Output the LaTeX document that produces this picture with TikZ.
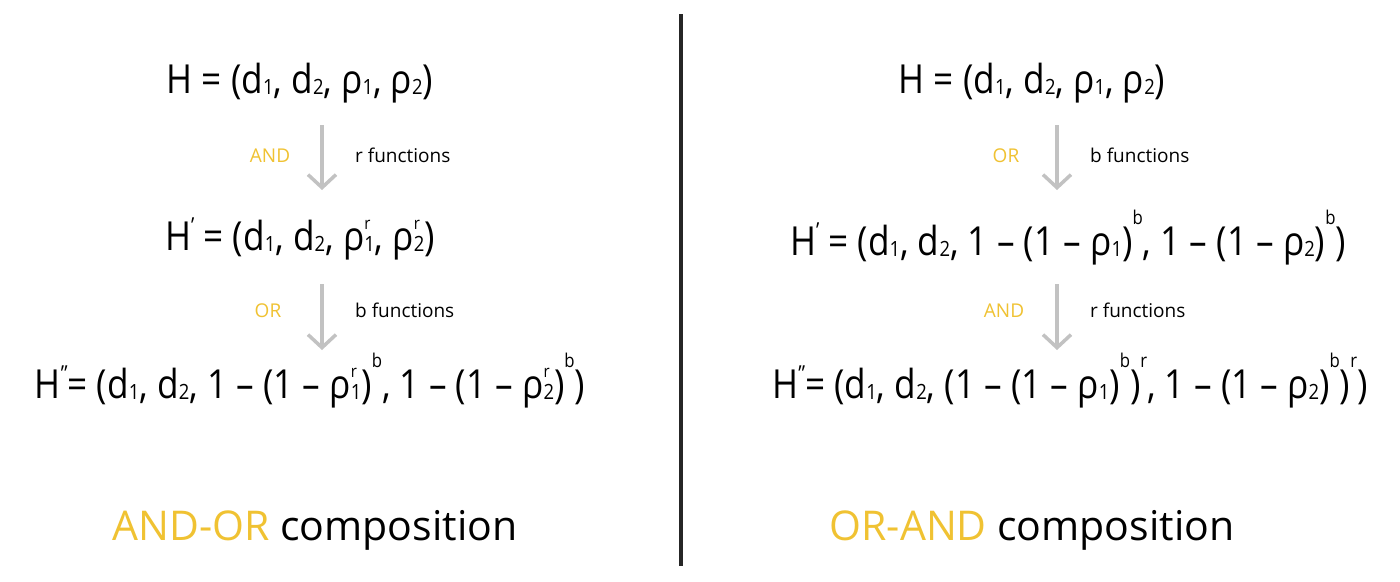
\documentclass[tikz,border=0pt]{standalone}
\usepackage{fontspec}
\setmainfont{Open Sans}
\newfontfamily\formulafont[FakeStretch=0.88]{Open Sans}
\usetikzlibrary{arrows.meta, positioning}

\definecolor{gateyellow}{HTML}{F0C232}
\definecolor{flowgray}{HTML}{C2C2C2}
\definecolor{rulegray}{HTML}{262626}

% sub- and superscripts as the reference sets them
\newcommand\lo[1]{\raisebox{-1.5pt}{\fontsize{21}{21}\selectfont #1}}
\newcommand\hi[1]{\raisebox{31pt}{\fontsize{19}{19}\selectfont #1}}
\newcommand\rr[1]{\raisebox{21pt}{\fontsize{17}{17}\selectfont #1}}
\newcommand\lohi[2]{\rlap{\rr{#2}}\lo{#1}}
\newcommand\prm[1]{\raisebox{17pt}{\fontsize{22}{22}\selectfont #1}}

\tikzset{
  formula/.style={font=\formulafont\fontsize{40}{48}\selectfont, inner sep=0pt, anchor=base},
  gate/.style={font=\fontsize{19}{22}\selectfont, text=gateyellow, inner sep=0pt, anchor=base},
  func/.style={font=\fontsize{19}{22}\selectfont, inner sep=0pt, anchor=base west},
  caption/.style={font=\fontsize{41}{48}\selectfont, inner sep=0pt, anchor=base},
  flow/.style={flowgray, line width=3.5pt, -{Straight Barb[length=13pt, width=28pt]}}
}

\begin{document}
\begin{tikzpicture}[x=1pt, y=-1pt]
    \useasboundingbox[fill=white] (0,0) rectangle (1400,581);

    % Divider
    \draw[rulegray, line width=3.5pt] (681,14) -- (681,566);

    % AND-OR side
    \node[formula] (lH) at (300,93) {H = (d\lo{1}, d\lo{2}, ρ\lo{1}, ρ\lo{2})};
    \node[formula] (lH1) at (300,250) {H\prm{’} = (d\lo{1}, d\lo{2}, ρ\lohi{1}{r}, ρ\lohi{2}{r})};
    \node[formula] (lH2) at (310,398) {H\prm{”}= (d\lo{1}, d\lo{2}, 1 – (1 – ρ\lohi{1}{r})\hi{b}, 1 – (1 – ρ\lohi{2}{r})\hi{b})};
    \coordinate (la1) at (322,125);
    \coordinate (lb1) at (322,190);
    \coordinate (la2) at (322,284);
    \coordinate (lb2) at (322,350);
    \draw[flow] (la1) -- (lb1);
    \draw[flow] (la2) -- (lb2);
    \node[gate] (lg1) at (270,162) {AND};
    \node[func] (lf1) at (355,162) {r functions};
    \node[gate] (lg2) at (268,317) {OR};
    \node[func] (lf2) at (355,317) {b functions};
    \node[caption] (lcap) at (315,540) {\textcolor{gateyellow}{AND-OR} composition};

    % OR-AND side
    \node[formula] (rH) at (1032,93) {H = (d\lo{1}, d\lo{2}, ρ\lo{1}, ρ\lo{2})};
    \node[formula] (rH1) at (1068,255) {H\prm{’} = (d\lo{1}, d\lo{2}, 1 – (1 – ρ\lo{1})\hi{b}, 1 – (1 – ρ\lo{2})\hi{b})};
    \node[formula] (rH2) at (1070,398) {H\prm{”}= (d\lo{1}, d\lo{2}, (1 – (1 – ρ\lo{1})\hi{b})\hi{r}, 1 – (1 – ρ\lo{2})\hi{b})\hi{r})};
    \coordinate (ra1) at (1057,125);
    \coordinate (rb1) at (1057,190);
    \coordinate (ra2) at (1057,284);
    \coordinate (rb2) at (1057,350);
    \draw[flow] (ra1) -- (rb1);
    \draw[flow] (ra2) -- (rb2);
    \node[gate] (rg1) at (1006,162) {OR};
    \node[func] (rf1) at (1090,162) {b functions};
    \node[gate] (rg2) at (1004,317) {AND};
    \node[func] (rf2) at (1090,317) {r functions};
    \node[caption] (rcap) at (1032,540) {\textcolor{gateyellow}{OR-AND} composition};
\end{tikzpicture}
\end{document}
